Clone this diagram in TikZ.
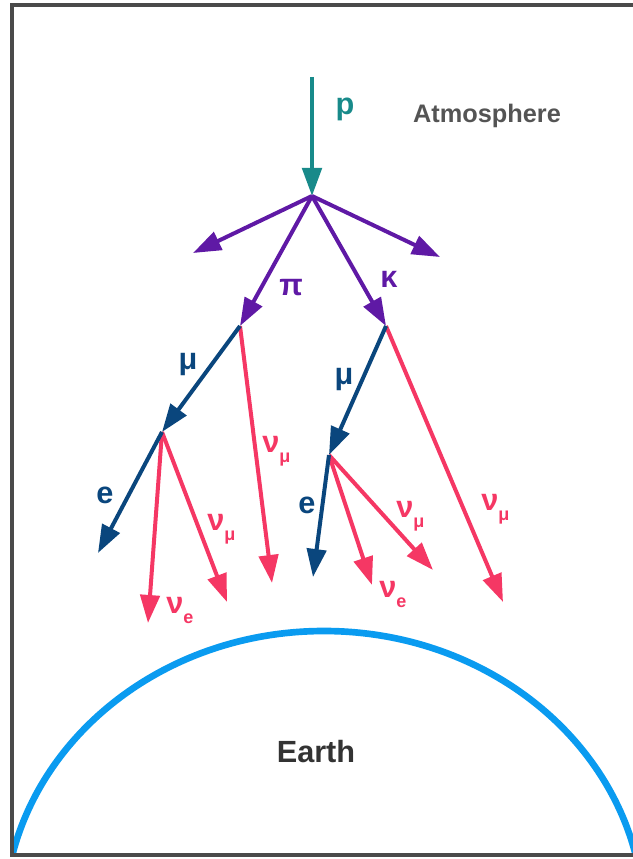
\documentclass[tikz,border=0pt]{standalone}
\usepackage{fontspec}
\setmainfont{Liberation Sans}
\usetikzlibrary{arrows.meta}
\definecolor{CP}{HTML}{188A8A}
\definecolor{CV}{HTML}{5F19A5}
\definecolor{CM}{HTML}{0A467D}
\definecolor{CN}{HTML}{F53764}
\definecolor{CE}{HTML}{0A9BF0}
\definecolor{CF}{HTML}{4A4A4A}
\tikzset{
  ray/.style={line width=3pt, -{Triangle[length=21pt,width=14.5pt]}},
  lbl/.style={inner sep=0pt, anchor=base,
    font=\fontsize{23}{23}\selectfont\bfseries},
  nulbl/.style={lbl, anchor=base west, CN},
}
\newcommand{\nusub}[1]{ν\raisebox{-7.5pt}{\fontsize{13.5}{14}\selectfont #1}}

\begin{document}
\begin{tikzpicture}[x=0.75pt,y=-0.75pt]
  \useasboundingbox (0,0) rectangle (632,859);
  \begin{scope}
    \clip (12,5.5) rectangle (640,855);
    \draw[CE, line width=5pt] (324,921)
      ellipse [x radius=240pt, y radius=217.5pt];
  \end{scope}
  \draw[CF, line width=3pt] (640,5.5) -- (12,5.5) -- (12,855) -- (640,855);

  \coordinate (src) at (312,77);
  \coordinate (hit) at (312,196);
  \coordinate (sl) at (193,253);
  \coordinate (sr) at (440,257);
  \coordinate (pion) at (240,326);
  \coordinate (kaon) at (386,326);
  \coordinate (mua) at (162,432);
  \coordinate (mub) at (329,455);
  \coordinate (numa) at (272,583);
  \coordinate (ea) at (98,553);
  \coordinate (nuea) at (148,623);
  \coordinate (numb) at (227,602);
  \coordinate (numk) at (503,602);
  \coordinate (eb) at (313,577);
  \coordinate (nueb) at (372,585);
  \coordinate (numc) at (433,570);

  \draw[ray, CP] (src) -- (hit);
  \draw[ray, CV] (hit) -- (sl);
  \draw[ray, CV] (hit) -- (sr);
  \draw[ray, CV] (hit) -- (pion);
  \draw[ray, CV] (hit) -- (kaon);
  \draw[ray, CN] (pion) -- (numa);
  \draw[ray, CM] (pion) -- (mua);
  \draw[ray, CN] (kaon) -- (numk);
  \draw[ray, CM] (kaon) -- (mub);
  \draw[ray, CN] (mua) -- (nuea);
  \draw[ray, CN] (mua) -- (numb);
  \draw[ray, CM] (mua) -- (ea);
  \draw[ray, CN] (mub) -- (nueb);
  \draw[ray, CN] (mub) -- (numc);
  \draw[ray, CM] (mub) -- (eb);

  \node[lbl, CP] (lp) at (345,115) {p};
  \node[lbl, CV] (lpi) at (291,295) {π};
  \node[lbl, CV] (lka) at (389,287) {κ};
  \node[lbl, CM] (lmua) at (188,369) {μ};
  \node[lbl, CM] (lmub) at (344,384) {μ};
  \node[lbl, CM] (lea) at (105,503) {e};
  \node[lbl, CM] (leb) at (307,513) {e};
  \node[nulbl] (lnuma) at (262,452) {\nusub{μ}};
  \node[nulbl] (lnumb) at (207,530) {\nusub{μ}};
  \node[nulbl] (lnuea) at (166,613) {\nusub{e}};
  \node[nulbl] (lnumk) at (481,510) {\nusub{μ}};
  \node[nulbl] (lnumc) at (396,517) {\nusub{μ}};
  \node[nulbl] (lnueb) at (379,597) {\nusub{e}};

  \node[inner sep=0pt, anchor=base, text=black!67,
    font=\fontsize{19}{19}\selectfont\bfseries] (atm) at (487,123) {Atmosphere};
  \node[inner sep=0pt, anchor=base, text=black!80,
    font=\fontsize{23}{23}\selectfont\bfseries] (earth) at (316,762) {Earth};
\end{tikzpicture}
\end{document}
